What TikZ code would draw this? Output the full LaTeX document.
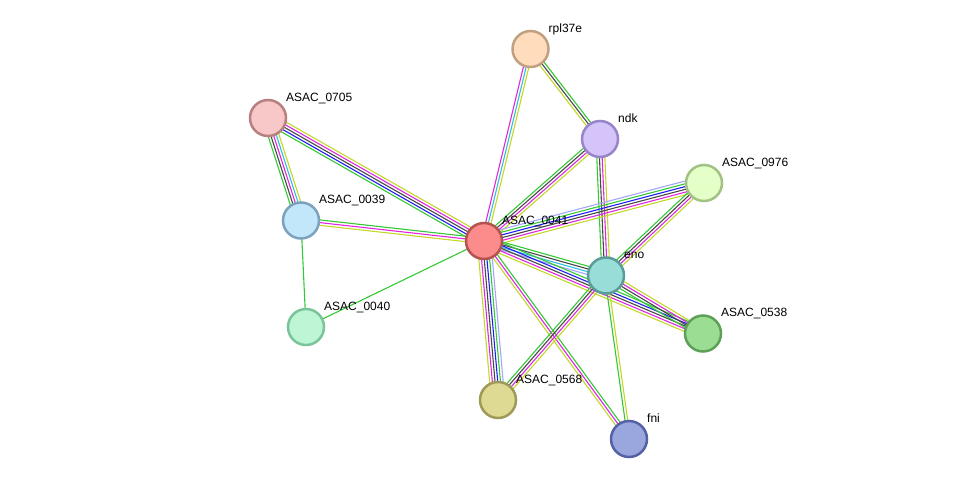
\documentclass[tikz,border=0pt]{standalone}
\usepackage{fontspec}
\setmainfont{Liberation Sans}
\usetikzlibrary{calc,backgrounds}
\definecolor{eg}{RGB}{52,200,52}
\definecolor{ek}{RGB}{72,72,72}
\definecolor{em}{RGB}{222,40,222}
\definecolor{ec}{RGB}{50,190,225}
\definecolor{ey}{RGB}{195,215,40}
\definecolor{eb}{RGB}{30,30,245}
\definecolor{el}{RGB}{165,165,250}
% node colours
\definecolor{f41}{RGB}{252,140,140}\definecolor{b41}{RGB}{180,82,80}
\definecolor{f705}{RGB}{248,200,200}\definecolor{b705}{RGB}{184,128,128}
\definecolor{f39}{RGB}{194,230,250}\definecolor{b39}{RGB}{124,162,190}
\definecolor{f40}{RGB}{190,245,212}\definecolor{b40}{RGB}{122,196,154}
\definecolor{frpl}{RGB}{255,221,188}\definecolor{brpl}{RGB}{192,160,128}
\definecolor{fndk}{RGB}{212,196,250}\definecolor{bndk}{RGB}{152,132,200}
\definecolor{f976}{RGB}{228,255,200}\definecolor{b976}{RGB}{162,194,132}
\definecolor{feno}{RGB}{152,221,216}\definecolor{beno}{RGB}{92,156,152}
\definecolor{f538}{RGB}{156,221,148}\definecolor{b538}{RGB}{94,160,88}
\definecolor{f568}{RGB}{222,218,148}\definecolor{b568}{RGB}{158,154,88}
\definecolor{ffni}{RGB}{154,166,222}\definecolor{bfni}{RGB}{84,98,165}
\newcommand{\stredge}[3]{%
  \foreach \cc [count=\nn] in {#3} {\xdef\ncnt{\nn}}%
  \foreach \cc [count=\ii] in {#3} {%
    \pgfmathsetmacro\off{(\ii-(\ncnt+1)/2)*2.7}%
    \draw[\cc] ($(#1.center)!\off pt!90:(#2.center)$) -- ($(#2.center)!\off pt!-90:(#1.center)$);
  }%
}
\tikzset{
  prot/.style={circle, draw, line width=2.5pt, minimum size=36pt, inner sep=0pt},
  lab/.style={anchor=west, inner sep=0pt, text height=8.6pt, text depth=0pt, font=\fontsize{12}{14}\selectfont},
  edgeline/.style={line width=1.1pt}
}
\begin{document}
\begin{tikzpicture}[x=1pt,y=-1pt]
\useasboundingbox (0,0) rectangle (976,484);
% nodes
\node[prot, fill=f41, draw=b41] (n41) at (484,241) {};
\node[prot, fill=f705, draw=b705] (n705) at (268,118) {};
\node[prot, fill=f39, draw=b39] (n39) at (301,220.5) {};
\node[prot, fill=f40, draw=b40] (n40) at (306,327) {};
\node[prot, fill=frpl, draw=brpl] (nrpl) at (530.5,49) {};
\node[prot, fill=fndk, draw=bndk] (nndk) at (600,139) {};
\node[prot, fill=f976, draw=b976] (n976) at (704,183) {};
\node[prot, fill=feno, draw=beno] (neno) at (606,275.5) {};
\node[prot, fill=f538, draw=b538] (n538) at (703,333.5) {};
\node[prot, fill=f568, draw=b568] (n568) at (498,400) {};
\node[prot, fill=ffni, draw=bfni] (nfni) at (629,439) {};
% labels
\node[lab] (l41) at (502,220) {ASAC\_0041};
\node[lab] (l705) at (286,97) {ASAC\_0705};
\node[lab] (l39) at (319,199) {ASAC\_0039};
\node[lab] (l40) at (324,306) {ASAC\_0040};
\node[lab] (lrpl) at (548.5,28) {rpl37e};
\node[lab] (lndk) at (618,118) {ndk};
\node[lab] (l976) at (722,162) {ASAC\_0976};
\node[lab] (leno) at (624,254.5) {eno};
\node[lab] (l538) at (721,312.5) {ASAC\_0538};
\node[lab] (l568) at (516,379) {ASAC\_0568};
\node[lab] (lfni) at (647,418) {fni};
% edges
\begin{pgfonlayer}{background}
\begin{scope}[edgeline]
\stredge{n705}{n41}{eg,eb,ek,em,ey}
\stredge{n705}{n39}{eg,ek,em,ec,ey}
\stredge{n39}{n41}{ey,em,eg}
\stredge{n39}{n40}{eg}
\stredge{n40}{n41}{eg}
\stredge{nrpl}{n41}{em,ec,ey}
\stredge{nrpl}{nndk}{ey,ek,eg}
\stredge{nndk}{n41}{eg,ek,em,ey}
\stredge{nndk}{neno}{eg,ek,em,ey}
\stredge{n976}{n41}{el,eg,eb,ek,em,ey}
\stredge{n976}{neno}{eg,ek,em,ey}
\stredge{n41}{neno}{el,ec,ek,eg}
\stredge{n41}{n538}{ey,em,ek,eb,eg}
\stredge{neno}{n538}{eg,ek,em,ey}
\stredge{n41}{n568}{ey,em,ek,eb,eg,el}
\stredge{n41}{nfni}{ey,em,eg}
\stredge{neno}{n568}{eg,ek,em,ey}
\stredge{neno}{nfni}{eg,ey}
\end{scope}
\end{pgfonlayer}
\end{tikzpicture}
\end{document}
